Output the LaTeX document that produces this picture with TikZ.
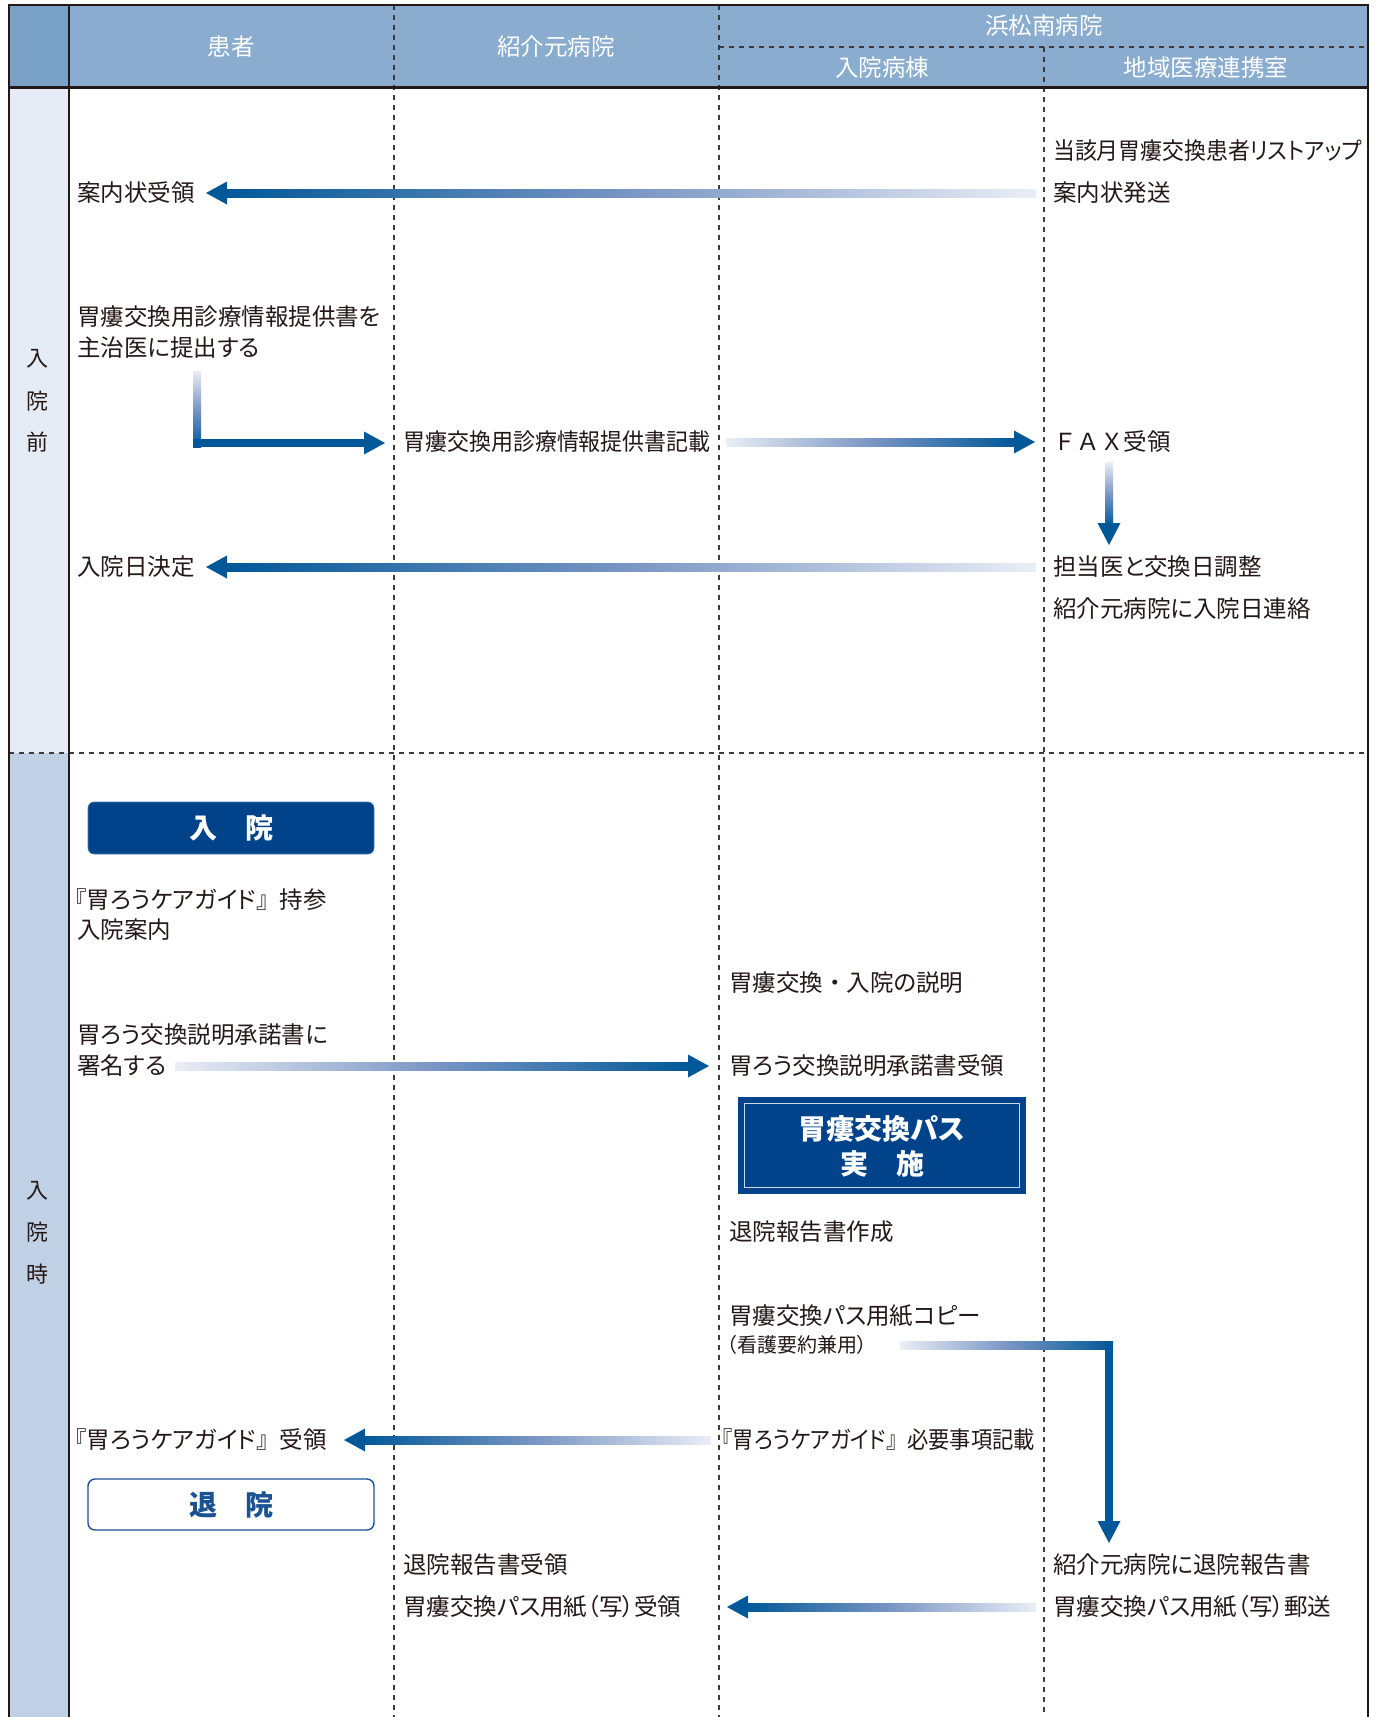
\documentclass[tikz,border=0pt]{standalone}
\usepackage{fontspec}
\usepackage{graphicx}
\setmainfont{Noto Sans CJK JP}[RawFeature={+palt}]
\newfontfamily\fw{Noto Sans CJK JP}
\usetikzlibrary{calc}
\definecolor{hdr}{RGB}{138,172,206}
\definecolor{hdrl}{RGB}{122,162,200}
\definecolor{pre}{RGB}{230,236,245}
\definecolor{dur}{RGB}{192,208,229}
\definecolor{lin}{RGB}{35,24,21}
\definecolor{dsh}{RGB}{62,58,57}
\definecolor{tcol}{RGB}{35,24,21}
\definecolor{adark}{RGB}{0,88,152}
\definecolor{amid}{RGB}{122,150,196}
\definecolor{alight}{RGB}{234,238,246}
\definecolor{boxblue}{RGB}{0,67,138}
\definecolor{outblue}{RGB}{26,82,146}
% arrows: left-pointing, right-pointing, down-pointing
\newcommand\ArrLeft[3]{% tail x, tip x, y
  \shade[left color=adark, right color=alight, middle color=amid] (#2+19,#3-4) rectangle (#1,#3+4);
  \fill[adark] (#2,#3) -- (#2+21,#3-11.5) -- (#2+21,#3+11.5) -- cycle;}
\newcommand\ArrRight[3]{% tail x, tip x, y
  \shade[left color=alight, right color=adark, middle color=amid] (#1,#3-4) rectangle (#2-19,#3+4);
  \fill[adark] (#2,#3) -- (#2-21,#3-11.5) -- (#2-21,#3+11.5) -- cycle;}
\newcommand\ArrDown[3]{% x, tail y, tip y
  \shade[top color=alight, bottom color=adark, middle color=amid] (#1-4,#2) rectangle (#1+4,#3-19);
  \fill[adark] (#1,#3) -- (#1-11.5,#3-22) -- (#1+11.5,#3-22) -- cycle;}
\newcommand\Narrow[2]{\scalebox{#1}[1]{#2}}
\begin{document}
\begin{tikzpicture}[x=1pt,y=-1pt,
  sline/.style={draw=lin, line width=2.4pt},
  dline/.style={draw=dsh, line width=1.1pt, dash pattern=on 5pt off 5pt},
  txt/.style={anchor=west, inner sep=0pt, text=tcol, font=\fontsize{23.5}{28}\selectfont, text height=20.6pt, text depth=2.9pt},
  smalltxt/.style={txt, font=\fontsize{20}{24}\selectfont, text height=17.6pt, text depth=2.4pt},
  htxt/.style={inner sep=0pt, text=white, font=\fontsize{23.5}{28}\selectfont},
  sidetxt/.style={inner sep=0pt, text=tcol, font=\fontsize{22}{26}\selectfont},
  boxtxt/.style={inner sep=0pt, text=white, font=\fontsize{28}{32}\selectfont\bfseries}
]
\useasboundingbox (0,0) rectangle (1377,1717);
% fills
\fill[hdr] (9,5) rectangle (1368,87.5);
\fill[hdrl] (9,5) rectangle (69,87.5);
\fill[pre] (9,87.5) rectangle (69,753);
\fill[dur] (9,753) rectangle (69,1717);
% dashed lines
\draw[dline] (394,5) -- (394,1717);
\draw[dline] (719,5) -- (719,1717);
\draw[dline] (1044,47) -- (1044,1717);
\draw[dline] (719,47) -- (1368,47);
\draw[dline] (9,753) -- (1368,753);
% solid lines
\draw[sline] (9,1717) -- (9,5) -- (1368,5) -- (1368,1717);
\draw[sline] (9,87.5) -- (1368,87.5);
\draw[sline] (69,5) -- (69,1717);

% header
\node[htxt] (h1) at (231,47) {患者};
\node[htxt] (h2) at (556,47) {紹介元病院};
\node[htxt] (h3) at (1044,26) {浜松南病院};
\node[htxt] (h4) at (882,68) {入院病棟};
\node[htxt] (h5) at (1206,68) {地域医療連携室};

% side labels
\node[sidetxt] (s1) at (38,359) {入};
\node[sidetxt] (s2) at (38,401) {院};
\node[sidetxt] (s3) at (38,442) {前};
\node[sidetxt] (s4) at (38,1191) {入};
\node[sidetxt] (s5) at (38,1232) {院};
\node[sidetxt] (s6) at (38,1274) {時};

% before admission
\node[txt] (t1) at (1053,151) {\Narrow{0.93}{当該月胃瘻交換患者リストアップ}};
\node[txt] (t2) at (1053,193) {案内状発送};
\node[txt] (t3) at (77,193) {案内状受領};
\node[txt] (t4) at (77,317) {胃瘻交換用診療情報提供書を};
\node[txt] (t5) at (77,348) {主治医に提出する};
\node[txt] (t6) at (403,442) {\Narrow{0.935}{胃瘻交換用診療情報提供書記載}};
\node[txt] (t7) at (1053,442) {{\fw ＦＡＸ}受領};
\node[txt] (t8) at (1053,567) {担当医と交換日調整};
\node[txt] (t9) at (1053,609) {紹介元病院に入院日連絡};
\node[txt] (t10) at (77,567) {入院日決定};

% during admission
\node[fill=boxblue, draw=boxblue!70!white, line width=0.6pt, rounded corners=6pt, minimum width=286pt, minimum height=52pt, inner sep=0pt] (nyuin) at (231,828) {};
\node[boxtxt] (nyuintxt) at (nyuin.center) {入　院};
\node[txt] (t11) at (75,900) {『胃ろうケアガイド{\fw 』}持参};
\node[txt] (t12) at (77,930) {入院案内};
\node[txt] (t13) at (729,983) {胃瘻交換{\fw ・}入院の説明};
\node[txt] (t14) at (77,1035) {胃ろう交換説明承諾書に};
\node[txt] (t15) at (77,1066) {署名する};
\node[txt] (t16) at (729,1066) {胃ろう交換説明承諾書受領};
\node[fill=boxblue, minimum width=288pt, minimum height=97pt, inner sep=0pt] (pass) at (882,1145.5) {};
\draw[draw=white!80!boxblue, line width=1pt] ($(pass.north west)+(7,7)$) rectangle ($(pass.south east)+(-7,-7)$);
\node[boxtxt] (pass1) at (882,1129) {胃瘻交換パス};
\node[boxtxt] (pass2) at (882,1164) {実　施};
\node[txt] (t17) at (729,1232) {退院報告書作成};
\node[txt] (t18) at (729,1316) {胃瘻交換パス用紙コピー};
\node[smalltxt] (t19) at (727,1345) {（看護要約兼用）};
\node[txt] (t20) at (722,1440) {\Narrow{0.905}{『胃ろうケアガイド{\fw 』}必要事項記載}};
\node[txt] (t21) at (75,1440) {『胃ろうケアガイド{\fw 』}受領};
\node[fill=white, draw=outblue, line width=1.4pt, rounded corners=7pt, minimum width=286pt, minimum height=51pt, inner sep=0pt] (taiin) at (231,1504.5) {};
\node[boxtxt, text=outblue] (taiintxt) at (taiin.center) {退　院};
\node[txt] (t22) at (403,1565) {退院報告書受領};
\node[txt] (t23) at (403,1607) {胃瘻交換パス用紙（写）受領};
\node[txt] (t24) at (1053,1565) {紹介元病院に退院報告書};
\node[txt] (t25) at (1053,1607) {胃瘻交換パス用紙（写）郵送};

% arrows
\ArrLeft{1036}{206}{193}
% L arrow
\shade[top color=alight, bottom color=adark, middle color=amid] (193,371) rectangle (201,447);
\fill[adark] (193,439) rectangle (366,447);
\fill[adark] (385,443) -- (364,431.5) -- (364,454.5) -- cycle;
\ArrRight{726}{1035}{442}
\ArrDown{1109}{462}{545}
\ArrLeft{1036}{206}{567}
\ArrRight{175}{709}{1066}
% elbow arrow
\shade[left color=alight, right color=adark, middle color=amid] (900,1341) rectangle (1113,1349);
\fill[adark] (1105,1341) rectangle (1113,1524);
\fill[adark] (1109,1543) -- (1097.5,1521) -- (1120.5,1521) -- cycle;
\ArrLeft{711}{344}{1440}
\ArrLeft{1036}{727}{1607}
\end{tikzpicture}
\end{document}
